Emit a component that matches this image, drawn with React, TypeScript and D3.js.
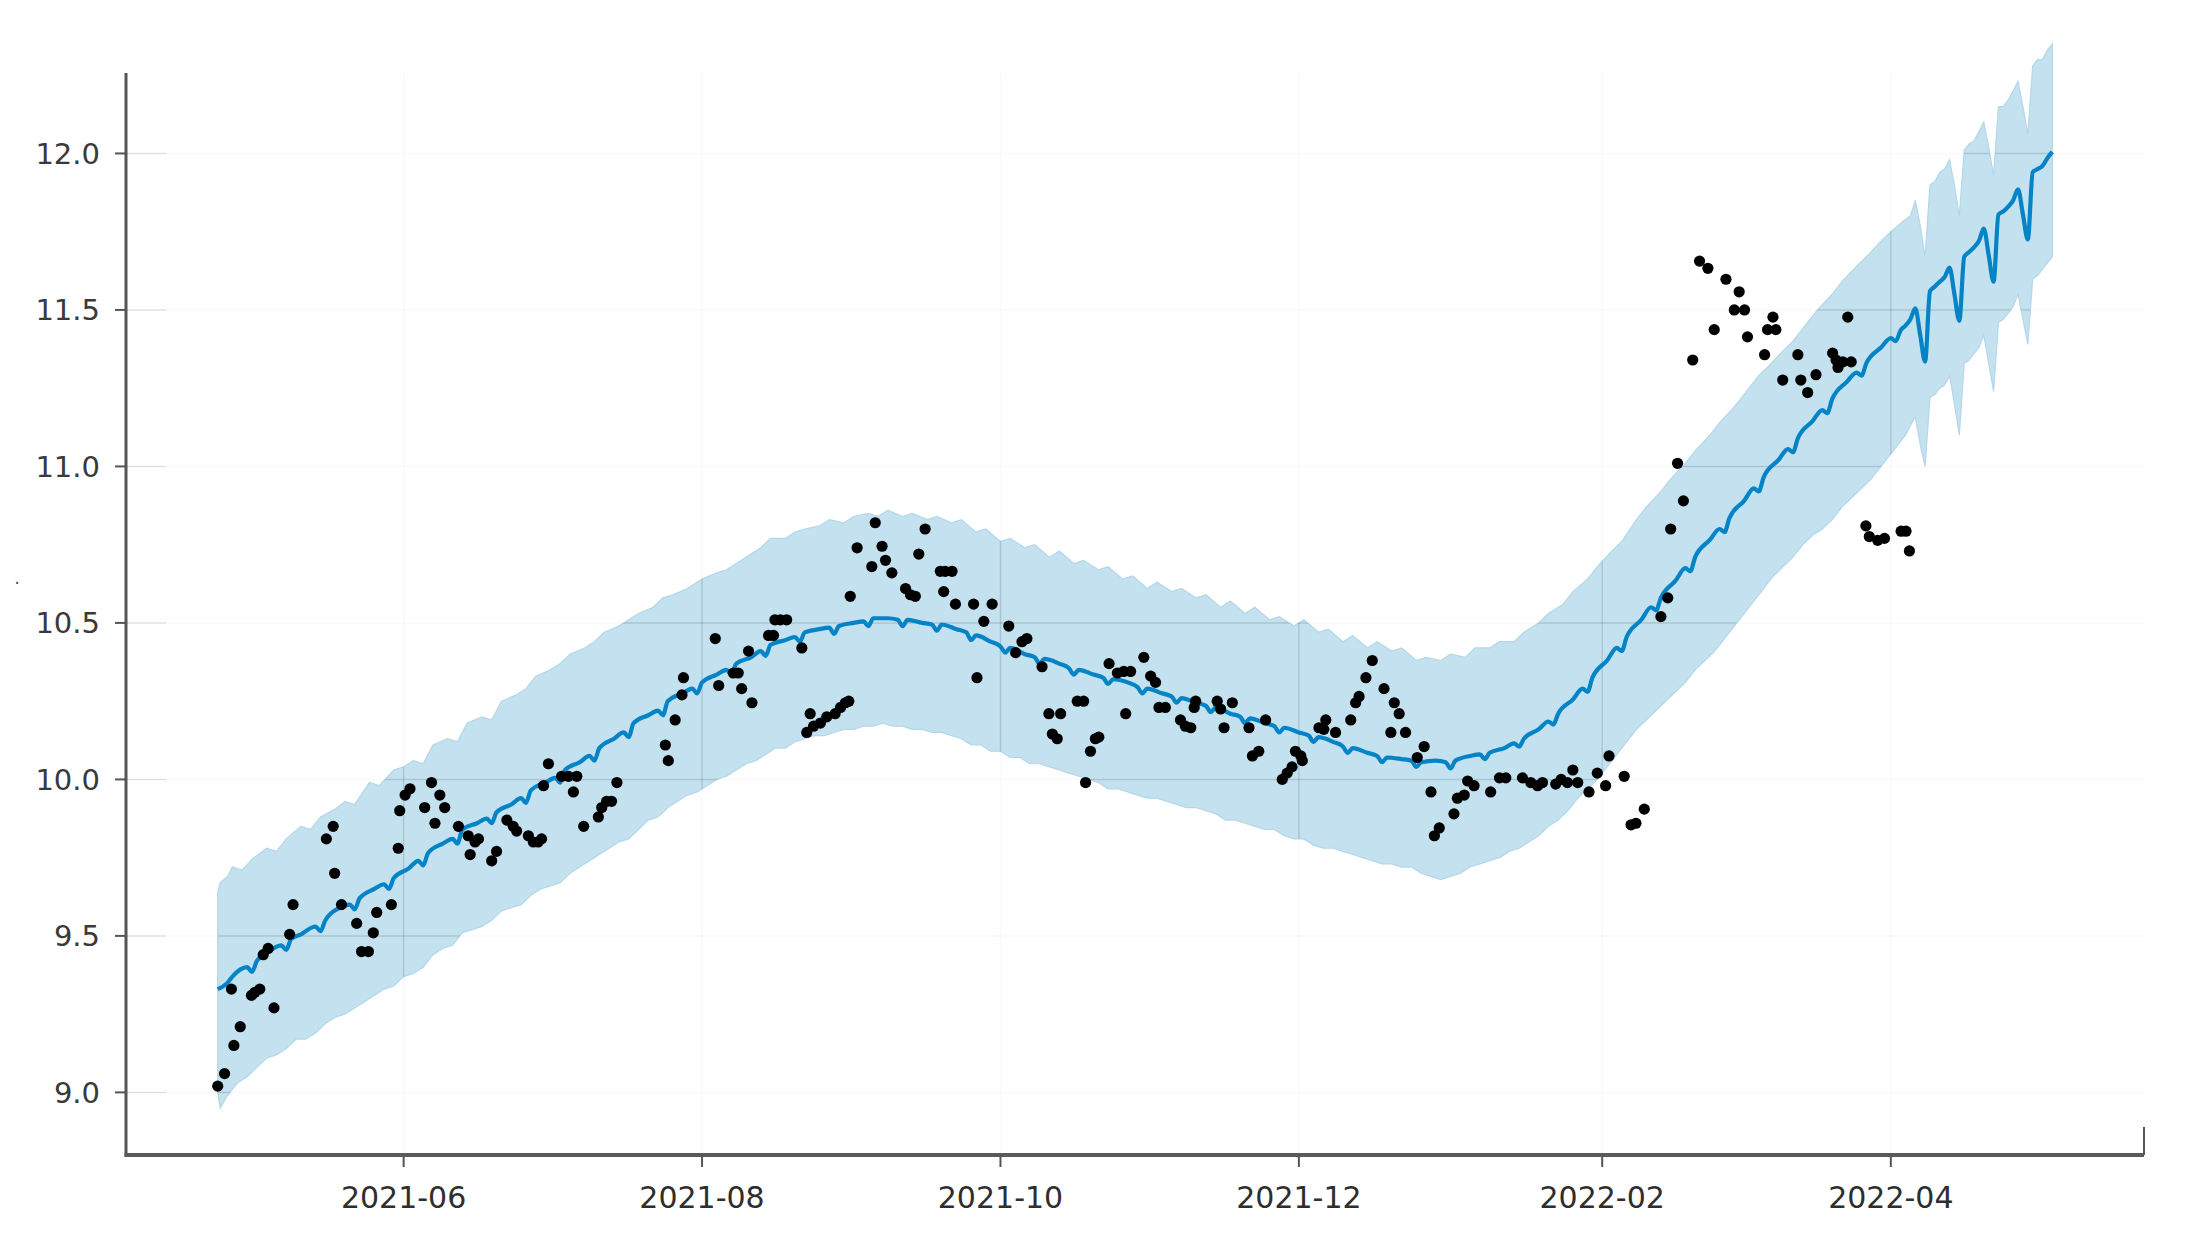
import React, { useEffect, useRef } from 'react';
import * as d3 from 'd3';

// day offsets counted from 2021-04-24
const startDate = new Date(2021, 3, 24);

const observed: [number, number][] = [
  [0, 9.02], [1.4, 9.06], [2.8, 9.33], [3.3, 9.15], [4.6, 9.21], [6.9, 9.31], [7.6, 9.32], [8.6, 9.33],
  [9.3, 9.44], [10.3, 9.46], [11.5, 9.27], [14.7, 9.505], [15.4, 9.6], [22.2, 9.81], [23.6, 9.85], [23.9, 9.7],
  [25.3, 9.6], [28.4, 9.54], [29.4, 9.45], [30.8, 9.45], [31.8, 9.51], [32.5, 9.575], [35.5, 9.6], [36.9, 9.78],
  [37.2, 9.9], [38.3, 9.95], [39.3, 9.97], [42.3, 9.91], [43.7, 9.99], [44.4, 9.86], [45.4, 9.95], [46.4, 9.91],
  [49.2, 9.85], [51.2, 9.82], [51.6, 9.76], [52.6, 9.8], [53.3, 9.81], [56, 9.74], [57, 9.77], [59.1, 9.87],
  [60.4, 9.85], [61.1, 9.835], [63.5, 9.82], [64.5, 9.8], [65.5, 9.8], [66.2, 9.81], [66.6, 9.98], [67.6, 10.05],
  [70.3, 10.01], [71.7, 10.01], [72.7, 9.96], [73.4, 10.01], [74.8, 9.85], [77.8, 9.88], [78.5, 9.91], [79.5, 9.93],
  [80.5, 9.93], [81.6, 9.99], [91.5, 10.11], [92.1, 10.06], [93.5, 10.19], [94.9, 10.27], [95.2, 10.325],
  [101.7, 10.45], [102.4, 10.3], [105.4, 10.34], [106.4, 10.34], [107.1, 10.29], [108.5, 10.41], [109.2, 10.245],
  [112.6, 10.46], [113.6, 10.46], [113.9, 10.51], [115, 10.51], [116.3, 10.51], [119.4, 10.42], [120.4, 10.15],
  [121.1, 10.21], [121.8, 10.17], [123.2, 10.18], [124.5, 10.2], [126.2, 10.21], [127.3, 10.23], [128.3, 10.245],
  [129, 10.25], [129.3, 10.585], [130.7, 10.74], [133.7, 10.68], [134.4, 10.82], [135.8, 10.745], [136.5, 10.7],
  [137.8, 10.66], [140.6, 10.61], [141.6, 10.59], [142.6, 10.585], [143.3, 10.72], [144.6, 10.8], [147.7, 10.665],
  [148.4, 10.6], [148.7, 10.665], [150.1, 10.665], [150.8, 10.56], [154.5, 10.56], [155.2, 10.325], [156.6, 10.505],
  [158.3, 10.56], [161.7, 10.49], [163.1, 10.405], [164.4, 10.44], [165.4, 10.45], [168.5, 10.36], [169.9, 10.21],
  [170.6, 10.145], [171.6, 10.13], [172.3, 10.21], [175.7, 10.25], [177, 10.25], [177.4, 9.99], [178.4, 10.09],
  [179.4, 10.13], [180.1, 10.135], [182.2, 10.37], [183.9, 10.34], [185.2, 10.345], [185.6, 10.21], [186.6, 10.345],
  [189.3, 10.39], [190.7, 10.33], [191.7, 10.31], [192.4, 10.23], [193.7, 10.23], [196.8, 10.19], [197.8, 10.17],
  [198.9, 10.165], [199.6, 10.23], [199.9, 10.25], [204.3, 10.25], [205, 10.225], [205.7, 10.165], [207.4, 10.245],
  [210.8, 10.165], [211.5, 10.075], [212.8, 10.09], [214.2, 10.19], [217.6, 10.0], [218.6, 10.02], [219.6, 10.04],
  [220.3, 10.09], [221.4, 10.075], [221.7, 10.06], [225.1, 10.165], [226.1, 10.16], [226.5, 10.19], [228.5, 10.15],
  [231.6, 10.19], [232.6, 10.245], [233.3, 10.265], [234.7, 10.325], [236, 10.38], [238.4, 10.29], [239.8, 10.15],
  [240.5, 10.245], [241.5, 10.21], [242.8, 10.15], [245.2, 10.07], [246.6, 10.105], [248, 9.96], [248.7, 9.82],
  [249.7, 9.845], [252.7, 9.89], [253.4, 9.94], [254.8, 9.95], [255.5, 9.995], [256.8, 9.98], [260.2, 9.96],
  [262, 10.005], [263.3, 10.005], [266.7, 10.005], [268.4, 9.99], [269.8, 9.98], [270.8, 9.99], [273.5, 9.985],
  [274.6, 10.0], [275.9, 9.99], [277, 10.03], [278, 9.99], [280.3, 9.96], [282, 10.02], [283.7, 9.98],
  [284.4, 10.075], [287.5, 10.01], [288.9, 9.855], [289.9, 9.86], [291.6, 9.905], [295, 10.52], [296.4, 10.58],
  [297, 10.8], [298.4, 11.01], [299.6, 10.89], [301.5, 11.34], [302.9, 11.656], [304.6, 11.633], [305.9, 11.437],
  [308.3, 11.598], [310, 11.5], [311, 11.558], [312.1, 11.5], [312.7, 11.414], [316.2, 11.357], [316.8, 11.437],
  [317.9, 11.477], [318.5, 11.437], [319.9, 11.276], [323, 11.357], [323.6, 11.276], [325, 11.236], [326.7, 11.293],
  [330.1, 11.362], [330.8, 11.34], [331.2, 11.316], [332.2, 11.334], [333.2, 11.477], [333.9, 11.334],
  [336.9, 10.81], [337.6, 10.776], [339.3, 10.764], [340.7, 10.77], [344.1, 10.793], [345.1, 10.793], [345.8, 10.73],
];

// fitted line (yhat)
const fitted: [number, number][] = [
  [0, 9.33], [2, 9.35], [3, 9.37], [6, 9.4], [7, 9.385], [8, 9.42], [10, 9.445], [13, 9.47], [14, 9.455], [15, 9.49],
  [17, 9.505], [20, 9.53], [21, 9.515], [22, 9.55], [25, 9.59], [27, 9.6], [28, 9.585], [29, 9.62], [32, 9.65],
  [34, 9.665], [35, 9.65], [36, 9.685], [39, 9.715], [41, 9.74], [42, 9.725], [43, 9.765], [46, 9.795], [48, 9.81],
  [49, 9.795], [50, 9.84], [53, 9.86], [55, 9.875], [56, 9.86], [57, 9.895], [60, 9.92], [62, 9.94], [63, 9.925],
  [64, 9.965], [67, 9.99], [69, 10.005], [70, 9.99], [71, 10.03], [74, 10.055], [76, 10.075], [77, 10.06], [78, 10.1],
  [81, 10.13], [83, 10.15], [84, 10.135], [85, 10.18], [88, 10.205], [90, 10.22], [91, 10.205], [92, 10.25],
  [95, 10.275], [97, 10.29], [98, 10.275], [99, 10.31], [102, 10.335], [104, 10.35], [105, 10.335], [106, 10.37],
  [109, 10.39], [111, 10.41], [112, 10.395], [113, 10.43], [116, 10.445], [118, 10.455], [119, 10.44], [120, 10.47],
  [123, 10.48], [125, 10.485], [126, 10.465], [127, 10.49], [130, 10.5], [132, 10.505], [133, 10.49], [134, 10.515],
  [137, 10.515], [139, 10.51], [140, 10.49], [141, 10.51], [144, 10.5], [146, 10.495], [147, 10.475], [148, 10.495],
  [151, 10.48], [153, 10.47], [154, 10.445], [155, 10.46], [158, 10.44], [160, 10.425], [161, 10.405], [162, 10.42],
  [165, 10.4], [167, 10.39], [168, 10.37], [169, 10.385], [172, 10.37], [174, 10.355], [175, 10.335], [176, 10.35],
  [179, 10.335], [181, 10.325], [182, 10.305], [183, 10.32], [186, 10.31], [188, 10.295], [189, 10.275], [190, 10.29],
  [193, 10.275], [195, 10.265], [196, 10.245], [197, 10.26], [200, 10.245], [202, 10.235], [203, 10.215], [204, 10.23],
  [207, 10.21], [209, 10.2], [210, 10.18], [211, 10.195], [214, 10.18], [216, 10.17], [217, 10.15], [218, 10.165],
  [221, 10.15], [223, 10.14], [224, 10.12], [225, 10.135], [228, 10.12], [230, 10.105], [231, 10.085], [232, 10.1],
  [235, 10.085], [237, 10.075], [238, 10.055], [239, 10.07], [242, 10.065], [244, 10.06], [245, 10.04], [246, 10.055],
  [249, 10.06], [251, 10.055], [252, 10.035], [253, 10.06], [256, 10.075], [258, 10.08], [259, 10.065], [260, 10.085],
  [263, 10.1], [265, 10.115], [266, 10.105], [267, 10.13], [270, 10.16], [272, 10.185], [273, 10.175], [274, 10.21],
  [277, 10.255], [279, 10.29], [280, 10.28], [281, 10.325], [284, 10.38], [286, 10.42], [287, 10.41], [288, 10.455],
  [291, 10.51], [293, 10.55], [294, 10.54], [295, 10.58], [298, 10.635], [300, 10.675], [301, 10.665], [302, 10.71],
  [305, 10.765], [307, 10.8], [308, 10.79], [309, 10.835], [312, 10.89], [314, 10.93], [315, 10.92], [316, 10.965],
  [319, 11.02], [321, 11.055], [322, 11.045], [323, 11.09], [326, 11.145], [328, 11.18], [329, 11.17], [330, 11.215],
  [333, 11.27], [335, 11.3], [336, 11.29], [337, 11.33], [340, 11.38], [342, 11.41], [343, 11.4], [344, 11.435],
  [345, 11.45], [346, 11.47], [347, 11.505], [348, 11.42], [349, 11.335], [350, 11.56], [351, 11.575], [352, 11.59],
  [353, 11.605], [354, 11.635], [355, 11.55], [356, 11.465], [357, 11.67], [358, 11.685], [359, 11.7], [360, 11.72],
  [361, 11.76], [362, 11.675], [363, 11.59], [364, 11.805], [365, 11.815], [366, 11.83], [367, 11.85], [368, 11.885],
  [369, 11.805], [370, 11.725], [371, 11.94], [372, 11.95], [373, 11.96], [374, 11.985], [375, 12.005],
];

// upper bound of the uncertainty band
const upper: [number, number][] = [
  [0, 9.64], [0.5, 9.67], [2, 9.69], [3, 9.72], [5, 9.71], [7, 9.745], [10, 9.78], [12, 9.77], [14, 9.81], [17, 9.85],
  [19, 9.84], [21, 9.88], [24, 9.905], [26, 9.93], [28, 9.92], [31, 9.99], [33, 9.98], [36, 10.03], [38, 10.04],
  [40, 10.06], [42, 10.05], [44, 10.11], [47, 10.13], [49, 10.12], [51, 10.18], [54, 10.2], [56, 10.19], [58, 10.25],
  [61, 10.27], [63, 10.29], [65, 10.33], [68, 10.35], [70, 10.37], [72, 10.4], [75, 10.42], [77, 10.44], [79, 10.47],
  [82, 10.49], [84, 10.51], [86, 10.53], [89, 10.55], [91, 10.58], [93, 10.59], [96, 10.61], [99, 10.64], [102, 10.66],
  [104, 10.67], [106, 10.69], [109, 10.72], [111, 10.74], [113, 10.77], [116, 10.77], [118, 10.79], [120, 10.8],
  [123, 10.81], [125, 10.83], [128, 10.82], [130, 10.84], [133, 10.85], [135, 10.84], [137, 10.86], [140, 10.84],
  [142, 10.85], [145, 10.83], [147, 10.84], [150, 10.82], [152, 10.83], [155, 10.79], [157, 10.8], [160, 10.76],
  [162, 10.77], [165, 10.74], [167, 10.75], [170, 10.71], [172, 10.73], [175, 10.69], [177, 10.7], [180, 10.67],
  [182, 10.68], [185, 10.64], [187, 10.65], [190, 10.61], [192, 10.63], [195, 10.6], [197, 10.61], [200, 10.58],
  [202, 10.59], [205, 10.55], [207, 10.57], [210, 10.53], [212, 10.55], [215, 10.51], [217, 10.52], [220, 10.49],
  [222, 10.51], [225, 10.47], [227, 10.48], [230, 10.44], [232, 10.46], [235, 10.42], [237, 10.44], [240, 10.41],
  [242, 10.42], [245, 10.38], [247, 10.39], [250, 10.38], [252, 10.4], [255, 10.39], [257, 10.42], [260, 10.42],
  [262, 10.44], [265, 10.44], [267, 10.47], [270, 10.5], [272, 10.53], [275, 10.56], [277, 10.6], [280, 10.64],
  [282, 10.68], [285, 10.73], [287, 10.76], [290, 10.83], [292, 10.87], [295, 10.92], [297, 10.96], [300, 11.01],
  [302, 11.05], [305, 11.1], [307, 11.14], [310, 11.19], [312, 11.23], [315, 11.29], [317, 11.32], [320, 11.37],
  [322, 11.4], [325, 11.46], [327, 11.5], [330, 11.55], [332, 11.59], [335, 11.64], [337, 11.67], [340, 11.72],
  [342, 11.75], [345, 11.79], [346, 11.8], [347, 11.85], [348, 11.77], [349, 11.67], [350, 11.9], [351, 11.91],
  [352, 11.94], [353, 11.95], [354, 11.98], [355, 11.9], [356, 11.8], [357, 12.01], [358, 12.03], [359, 12.04],
  [360, 12.07], [361, 12.1], [362, 12.02], [363, 11.93], [364, 12.15], [365, 12.15], [366, 12.17], [367, 12.2],
  [368, 12.23], [369, 12.15], [370, 12.06], [371, 12.28], [372, 12.3], [373, 12.3], [374, 12.33], [375, 12.35],
];

// lower bound of the uncertainty band
const lower: [number, number][] = [
  [0, 9.0], [0.5, 8.95], [2, 8.99], [4, 9.03], [6, 9.05], [8, 9.08], [10, 9.11], [12, 9.12], [14, 9.14], [16, 9.17],
  [18, 9.17], [20, 9.19], [22, 9.22], [24, 9.24], [26, 9.25], [28, 9.27], [30, 9.29], [32, 9.31], [34, 9.33],
  [36, 9.34], [38, 9.37], [40, 9.38], [42, 9.4], [44, 9.44], [46, 9.46], [48, 9.47], [50, 9.51], [52, 9.52],
  [54, 9.53], [56, 9.55], [58, 9.58], [60, 9.59], [62, 9.6], [64, 9.63], [66, 9.65], [68, 9.66], [70, 9.67],
  [72, 9.7], [74, 9.72], [76, 9.74], [78, 9.76], [80, 9.78], [82, 9.8], [84, 9.81], [86, 9.84], [88, 9.87],
  [90, 9.88], [92, 9.91], [94, 9.93], [96, 9.95], [98, 9.96], [100, 9.98], [102, 10.0], [104, 10.01], [106, 10.03],
  [108, 10.05], [110, 10.06], [112, 10.08], [114, 10.1], [116, 10.1], [118, 10.12], [120, 10.13], [122, 10.14],
  [124, 10.14], [126, 10.15], [128, 10.16], [130, 10.16], [132, 10.17], [134, 10.17], [136, 10.18], [138, 10.17],
  [140, 10.17], [142, 10.16], [144, 10.16], [146, 10.15], [148, 10.15], [150, 10.14], [152, 10.13], [154, 10.11],
  [156, 10.11], [158, 10.09], [160, 10.09], [162, 10.07], [164, 10.07], [166, 10.05], [168, 10.05], [170, 10.04],
  [172, 10.03], [174, 10.02], [176, 10.01], [178, 10.0], [180, 9.99], [182, 9.97], [184, 9.97], [186, 9.96],
  [188, 9.95], [190, 9.94], [192, 9.94], [194, 9.93], [196, 9.92], [198, 9.91], [200, 9.91], [202, 9.9], [204, 9.89],
  [206, 9.87], [208, 9.87], [210, 9.86], [212, 9.85], [214, 9.84], [216, 9.84], [218, 9.82], [220, 9.81], [222, 9.81],
  [224, 9.79], [226, 9.78], [228, 9.78], [230, 9.77], [232, 9.76], [234, 9.75], [236, 9.74], [238, 9.73], [240, 9.73],
  [242, 9.72], [244, 9.72], [246, 9.7], [248, 9.69], [250, 9.68], [252, 9.69], [254, 9.7], [256, 9.72], [258, 9.73],
  [260, 9.74], [262, 9.75], [264, 9.77], [266, 9.78], [268, 9.8], [270, 9.82], [272, 9.85], [274, 9.87], [276, 9.9],
  [278, 9.94], [280, 9.97], [282, 10.0], [284, 10.04], [286, 10.08], [288, 10.12], [290, 10.16], [292, 10.19],
  [294, 10.22], [296, 10.25], [298, 10.28], [300, 10.31], [302, 10.35], [304, 10.38], [306, 10.41], [308, 10.45],
  [310, 10.49], [312, 10.53], [314, 10.57], [316, 10.61], [318, 10.65], [320, 10.68], [322, 10.71], [324, 10.75],
  [326, 10.78], [328, 10.8], [330, 10.83], [332, 10.87], [334, 10.9], [336, 10.93], [338, 10.96], [340, 11.0],
  [342, 11.04], [344, 11.08], [345, 11.1], [346, 11.13], [347, 11.16], [348, 11.07], [349, 11.0], [350, 11.22],
  [351, 11.23], [352, 11.25], [353, 11.26], [354, 11.29], [355, 11.2], [356, 11.1], [357, 11.33], [358, 11.34],
  [359, 11.36], [360, 11.38], [361, 11.42], [362, 11.33], [363, 11.24], [364, 11.46], [365, 11.47], [366, 11.49],
  [367, 11.51], [368, 11.55], [369, 11.47], [370, 11.39], [371, 11.6], [372, 11.61], [373, 11.63], [374, 11.65],
  [375, 11.67],
];

const yTicks = [9.0, 9.5, 10.0, 10.5, 11.0, 11.5, 12.0];
const xTickLabels = ['2021-06', '2021-08', '2021-10', '2021-12', '2022-02', '2022-04'];

const W = 2188, H = 1239;
const left = 126, right = 2144, top = 73, bottom = 1155;

const dayToDate = (d: number) => new Date(startDate.getTime() + d * 86400000);

export default function App() {
  const ref = useRef<SVGSVGElement>(null);

  useEffect(() => {
    const svg = d3.select(ref.current);
    svg.selectAll('*').remove();

    const days = fitted.map(d => d[0]).concat(observed.map(d => d[0]));
    const d0 = d3.min(days) as number, d1 = d3.max(days) as number;
    const pad = (d1 - d0) * 0.05;

    const x = d3.scaleTime()
      .domain([dayToDate(d0 - pad), dayToDate(d1 + pad)])
      .range([left, right]);

    const y = d3.scaleLinear()
      .domain([8.8, 12.257])
      .range([bottom, top]);

    const px = (d: number) => x(dayToDate(d));

    // uncertainty band: upper edge forward, lower edge back
    const bandPts: [number, number][] = upper.map(d => [px(d[0]), y(d[1])] as [number, number])
      .concat(lower.slice().reverse().map(d => [px(d[0]), y(d[1])] as [number, number]));
    const bandD = d3.line()(bandPts) + 'Z';

    svg.append('defs').append('clipPath').attr('id', 'bandClip')
      .append('path').attr('d', bandD);

    svg.append('path')
      .attr('d', bandD)
      .attr('fill', '#c4e1ef')
      .attr('stroke', '#b4d7ea')
      .attr('stroke-width', 1.2);

    const tickDates = xTickLabels.map(s => {
      const [yy, mm] = s.split('-');
      return new Date(+yy, +mm - 1, 1);
    });

    // grid: very faint on white, clearer where it crosses the band
    const drawGrid = (g: any) => {
      yTicks.forEach(t => {
        g.append('line').attr('x1', left).attr('x2', right).attr('y1', y(t)).attr('y2', y(t));
      });
      tickDates.forEach(t => {
        g.append('line').attr('x1', x(t)).attr('x2', x(t)).attr('y1', top).attr('y2', bottom);
      });
    };
    drawGrid(svg.append('g').attr('stroke', '#000').attr('stroke-opacity', 0.025).attr('stroke-width', 1.5));
    drawGrid(svg.append('g').attr('clip-path', 'url(#bandClip)')
      .attr('stroke', '#000').attr('stroke-opacity', 0.1).attr('stroke-width', 1.5));

    // short grid stubs next to the y axis
    const stubs = svg.append('g').attr('stroke', '#000').attr('stroke-opacity', 0.1).attr('stroke-width', 1.5);
    yTicks.forEach(t => {
      stubs.append('line').attr('x1', left).attr('x2', left + 40).attr('y1', y(t)).attr('y2', y(t));
    });

    // fitted line
    svg.append('path')
      .datum(fitted)
      .attr('d', d3.line<[number, number]>().x(d => px(d[0])).y(d => y(d[1])).curve(d3.curveMonotoneX))
      .attr('fill', 'none')
      .attr('stroke', '#0483c6')
      .attr('stroke-width', 4.2)
      .attr('stroke-linejoin', 'round');

    // observations
    svg.append('g')
      .selectAll('circle')
      .data(observed)
      .enter()
      .append('circle')
      .attr('cx', d => px(d[0]))
      .attr('cy', d => y(d[1]))
      .attr('r', 5.6)
      .attr('fill', '#000');

    // spines
    svg.append('line').attr('x1', left).attr('x2', left).attr('y1', top).attr('y2', bottom + 1.5)
      .attr('stroke', '#555').attr('stroke-width', 3);
    svg.append('line').attr('x1', left - 1.5).attr('x2', right).attr('y1', bottom).attr('y2', bottom)
      .attr('stroke', '#5a5a5a').attr('stroke-width', 4);
    svg.append('line').attr('x1', right).attr('x2', right).attr('y1', bottom - 28).attr('y2', bottom)
      .attr('stroke', '#555').attr('stroke-width', 2);

    // y axis ticks
    const yAx = svg.append('g');
    yTicks.forEach(t => {
      yAx.append('line').attr('x1', left - 11).attr('x2', left).attr('y1', y(t)).attr('y2', y(t))
        .attr('stroke', '#555').attr('stroke-width', 2);
      yAx.append('text')
        .attr('x', left - 26)
        .attr('y', y(t))
        .attr('dy', '0.36em')
        .attr('text-anchor', 'end')
        .attr('fill', '#3a3a3a')
        .style('font-family', 'DejaVu Sans')
        .style('font-size', '29px')
        .text(t.toFixed(1));
    });

    // x axis ticks
    const xAx = svg.append('g');
    tickDates.forEach((t, i) => {
      xAx.append('line').attr('x1', x(t)).attr('x2', x(t)).attr('y1', bottom).attr('y2', bottom + 12)
        .attr('stroke', '#555').attr('stroke-width', 2);
      xAx.append('text')
        .attr('x', x(t))
        .attr('y', bottom + 53)
        .attr('text-anchor', 'middle')
        .attr('fill', '#2e2e2e')
        .style('font-family', 'DejaVu Sans')
        .style('font-size', '30px')
        .text(xTickLabels[i]);
    });

    // tiny y label mark
    svg.append('text')
      .attr('x', 17).attr('y', 584)
      .attr('text-anchor', 'middle')
      .attr('fill', '#555')
      .style('font-family', 'DejaVu Sans')
      .style('font-size', '18px')
      .text('.');
  }, []);

  return (
    <svg
      ref={ref}
      width={W}
      height={H}
      style={{ position: 'absolute', left: 0, top: 0, display: 'block', background: '#fff' }}
    />
  );
}
